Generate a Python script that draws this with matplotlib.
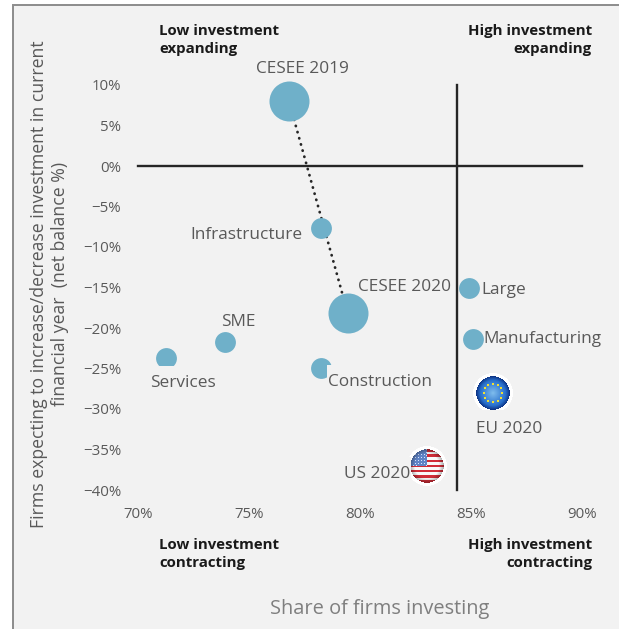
import numpy as np
import matplotlib
matplotlib.use('Agg')
import matplotlib.pyplot as plt
from matplotlib.offsetbox import OffsetImage, AnnotationBbox
from matplotlib.patches import Rectangle
from matplotlib.ticker import PercentFormatter

plt.rcParams['font.family'] = ['Open Sans', 'DejaVu Sans']

x_ticks = [70, 75, 80, 85, 90]
y_ticks = [10, 5, 0, -5, -10, -15, -20, -25, -30, -35, -40]

small_names = ['Infrastructure', 'Large', 'Manufacturing', 'SME', 'Services', 'Construction']
small_x = [78.25, 84.9, 85.1, 73.9, 71.25, 78.25]
small_y = [-7.7, -15.0, -21.3, -21.7, -23.7, -24.9]

big_names = ['CESEE 2019', 'CESEE 2020']
big_x = [76.8, 79.45]
big_y = [8.0, -18.2]

eu_point = (86.0, -28.0)
us_point = (83.0, -37.0)
split_x = 84.37

W, H = 619, 629
BLUE = '#6fb0c9'
GREY = '#595959'
BG = '#f2f2f2'


def flag_image(kind, n=200):
    yy, xx = np.mgrid[0:n, 0:n]
    u = (xx - n / 2 + 0.5) / (n / 2)
    v = (yy - n / 2 + 0.5) / (n / 2)
    r = np.sqrt(u ** 2 + v ** 2)
    img = np.ones((n, n, 4))
    rim = 0.84
    if kind == 'eu':
        t = np.clip(r / rim, 0, 1)[..., None]
        inner = np.array([0.50, 0.74, 0.93])
        mid = np.array([0.16, 0.44, 0.80])
        outer = np.array([0.05, 0.20, 0.52])
        img[..., :3] = np.where(t < 0.75, inner + (mid - inner) * t / 0.75, mid + (outer - mid) * (t - 0.75) / 0.25)
        for a in np.arange(12) * np.pi / 6:
            d = np.sqrt((u - 0.47 * np.cos(a)) ** 2 + (v - 0.47 * np.sin(a)) ** 2)
            img[d < 0.055, :3] = [0.95, 0.88, 0.2]
    else:
        stripe = np.floor((v + rim) / (2 * rim) * 13).astype(int)
        img[..., :3] = np.where((stripe % 2 == 0)[..., None], [0.82, 0.18, 0.22], [0.98, 0.98, 0.98])
        canton = (u < 0.0) & (v < 0.0)
        img[canton, :3] = [0.38, 0.52, 0.78]
        dots = canton & (np.sin(u * 40) * np.sin(v * 40) > 0.7)
        img[dots, :3] = [0.85, 0.9, 1.0]
        shade = 1 - 0.3 * np.clip((r - 0.6) / 0.24, 0, 1)[..., None]
        img[..., :3] *= shade
    img[r >= rim, :3] = 1.0
    img[..., 3] = np.clip((1 - r) * n / 2, 0, 1)
    return img


def px_rect(x0, y0, x1, y1, **kw):
    return Rectangle((x0 / W, 1 - y1 / H), (x1 - x0) / W, (y1 - y0) / H, transform=fig.transFigure, **kw)


fig = plt.figure(figsize=(W / 100, H / 100), dpi=100, facecolor='white')
fig.add_artist(Rectangle((12.5 / W, -0.01), 1.1, 1 - 4.5 / H + 0.01, transform=fig.transFigure,
                         facecolor=BG, edgecolor='#8c8c8c', linewidth=1.4, zorder=-1))

ax = fig.add_axes([138 / W, 1 - 490 / H, (582 - 138) / W, (490 - 85) / H])
ax.patch.set_alpha(0)
ax.set_xlim(70, 90)
ax.set_ylim(-40, 10)
for s in ax.spines.values():
    s.set_visible(False)
ax.set_xticks(x_ticks)
ax.set_yticks(y_ticks)
ax.xaxis.set_major_formatter(PercentFormatter(decimals=0))
ax.yaxis.set_major_formatter(PercentFormatter(decimals=0))
ax.tick_params(length=0, labelsize=10.8, labelcolor=GREY, pad=12.5)
ax.tick_params(axis='y', pad=12)

ax.plot([70, 90], [0, 0], color='#262626', lw=1.7, zorder=1, clip_on=False)
ax.plot([split_x, split_x], [-40, 10], color='#262626', lw=1.7, zorder=1, clip_on=False)
ax.plot(big_x, big_y, color='#262626', lw=2.0, ls=(0, (0.1, 2.2)), dash_capstyle='round', zorder=2)

ax.scatter(small_x, small_y, s=225, color=BLUE, linewidths=0, zorder=3, clip_on=False)
ax.scatter(big_x, big_y, s=830, color=BLUE, linewidths=0, zorder=3, clip_on=False)

for point, kind in [(eu_point, 'eu'), (us_point, 'us')]:
    ab = AnnotationBbox(OffsetImage(flag_image(kind), zoom=0.144), point, frameon=False, pad=0, zorder=4,
                        annotation_clip=False)
    ax.add_artist(ab)

# the label boxes in the original are opaque and cut into the markers
covers = [(150, 366, 216, 394), (327, 365, 433, 392), (475, 410, 545, 440), (344, 457, 411, 485)]
for box in covers:
    fig.add_artist(px_rect(*box, facecolor=BG, edgecolor='none', zorder=1))

labels = [
    ('CESEE 2019', 302, 69, 'center'), ('Infrastructure', 302, 235, 'right'),
    ('CESEE 2020', 358, 287, 'left'), ('Large', 481, 290, 'left'),
    ('Manufacturing', 483, 339, 'left'), ('SME', 238, 322, 'center'),
    ('Services', 183, 383, 'center'), ('Construction', 328, 382, 'left'),
    ('EU 2020', 509, 429, 'center'), ('US 2020', 344, 474, 'left'),
]
for name, px, py, ha in labels:
    fig.text(px / W, 1 - py / H, name, fontsize=12.4, color=GREY, ha=ha, va='center')

corners = [
    ('Low investment\nexpanding', 159, 40, 'left'), ('High investment\nexpanding', 592, 40, 'right'),
    ('Low investment\ncontracting', 159, 554, 'left'), ('High investment\ncontracting', 592, 554, 'right'),
]
for name, px, py, ha in corners:
    fig.text(px / W, 1 - py / H, name, fontsize=10.8, fontweight='bold', color='#1a1a1a', ha=ha, va='center',
             multialignment=ha, linespacing=1.45)

fig.text(380 / W, 1 - 609 / H, 'Share of firms investing', fontsize=14.4, color='#7f7f7f', ha='center', va='center')
fig.text(49.5 / W, 1 - 284 / H, 'Firms expecting to increase/decrease investment in current\nfinancial year  (net balance %)',
         fontsize=12.7, color=GREY, rotation=90, ha='center', va='center', multialignment='center', linespacing=1.25)

fig.savefig('out.png', dpi=100)
